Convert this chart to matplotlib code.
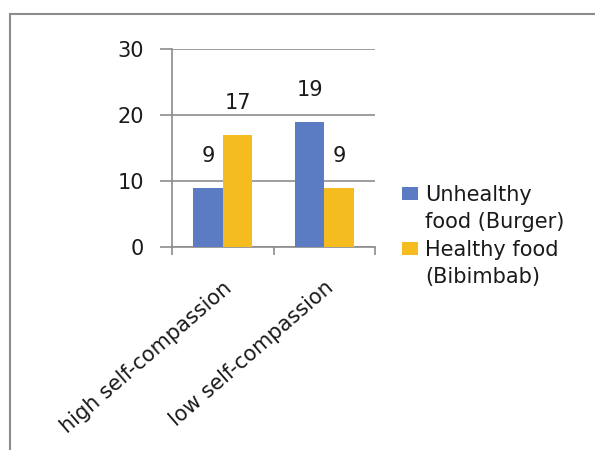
import matplotlib.pyplot as plt
import numpy as np
from matplotlib.lines import Line2D
from matplotlib.patches import Patch

plt.rcParams['font.family'] = ['DejaVu Sans']

categories = ['high self-compassion', 'low self-compassion']
legend_lines = [['Unhealthy', 'food (Burger)'], ['Healthy food', '(Bibimbab)']]
unhealthy = [9, 19]
healthy = [17, 9]
colours = ['#5B7CC2', '#F5BC1F']
grey = '#8c8c8c'
txt = '#1a1a1a'
fs = 15

fig = plt.figure(figsize=(5.95, 4.5), dpi=100)
ax = fig.add_axes([172 / 595, 1 - 247 / 450, 203 / 595, 198 / 450])

x = np.arange(len(categories))
w = 0.29
for i, (vals, col) in enumerate(zip([unhealthy, healthy], colours)):
    b = ax.bar(x + (i - 0.5) * w, vals, w, color=col, zorder=3)
    for rect, v in zip(b, vals):
        ax.annotate(str(v), (rect.get_x() + rect.get_width() / 2, v),
                    xytext=(0, 22), textcoords='offset pixels',
                    ha='center', va='bottom', fontsize=fs, color=txt)

ax.set_xlim(-0.5, 1.5)
ax.set_ylim(0, 30)
ax.set_yticks([0, 10, 20, 30])
ax.yaxis.grid(True, color=grey, linewidth=1.2, zorder=0)
ax.tick_params(axis='y', length=9, width=1.2, color=grey, labelsize=fs,
               labelcolor=txt, pad=11)

ax.set_xticks(x)
ax.set_xticklabels(categories, rotation=41, ha='right', rotation_mode='anchor',
                   fontsize=fs, color=txt)
ax.tick_params(axis='x', length=0, pad=22)
ax.set_xticks([-0.5, 0.5, 1.5], minor=True)
ax.tick_params(axis='x', which='minor', length=6, width=1.2, color=grey)

for side in ['top', 'right']:
    ax.spines[side].set_visible(False)
for side in ['left', 'bottom']:
    ax.spines[side].set_color(grey)
    ax.spines[side].set_linewidth(1.2)

# legend: colour box sits next to the first line of each wrapped label
handles, labels = [], []
for col, lines in zip(colours, legend_lines):
    handles.append(Patch(facecolor=col))
    labels.append(lines[0])
    handles.append(Patch(facecolor='none', edgecolor='none'))
    labels.append(lines[1])
fig.legend(handles, labels, loc='center left', bbox_to_anchor=(392 / 595, 1 - 236 / 450),
           frameon=False, fontsize=15, handlelength=0.75, handleheight=0.6,
           handletextpad=0.35, labelspacing=0.35, borderpad=0, labelcolor=txt)

# outer chart border (top and left edges only visible)
fig.add_artist(Line2D([10 / 595, 1], [1 - 14 / 450, 1 - 14 / 450], color=grey, linewidth=1.5))
fig.add_artist(Line2D([10 / 595, 10 / 595], [0, 1 - 14 / 450], color=grey, linewidth=1.5))

fig.savefig('out.png', dpi=100)
